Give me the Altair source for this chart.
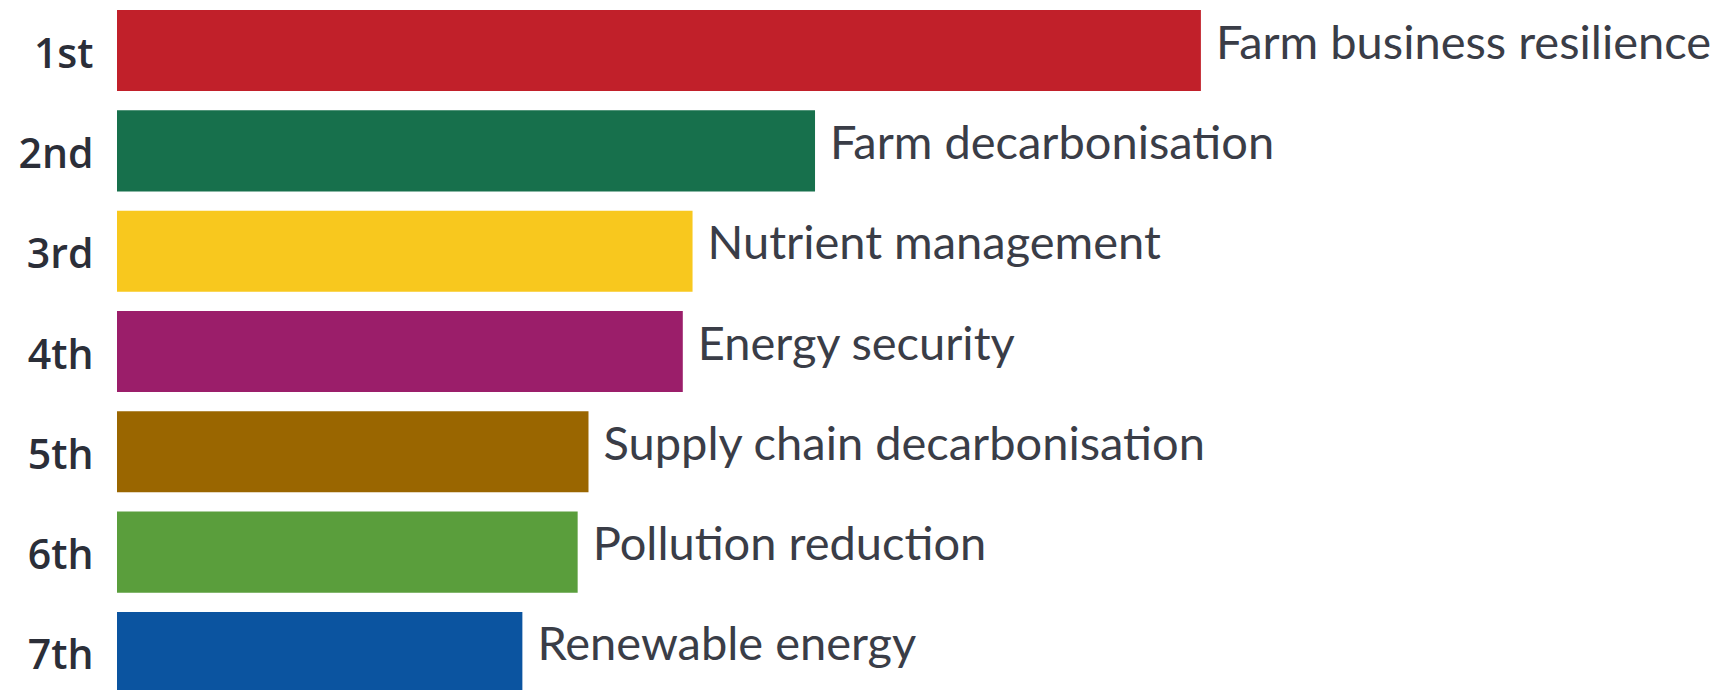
import altair as alt
import pandas as pd

ranks = ["1st", "2nd", "3rd", "4th", "5th", "6th", "7th"]
priorities = [
    "Farm business resilience",
    "Farm decarbonisation",
    "Nutrient management",
    "Energy security",
    "Supply chain decarbonisation",
    "Pollution reduction",
    "Renewable energy",
]
scores = [100.0, 64.4, 53.1, 52.2, 43.5, 42.5, 37.4]
colors = ["#C1202A", "#17704C", "#F8C81E", "#9B1E6A", "#9A6600", "#5A9E3C", "#0B54A0"]

df = pd.DataFrame({"rank": ranks, "priority": priorities, "score": scores, "color": colors})

yscale = alt.Scale(range=[0, 703], paddingInner=0.192, paddingOuter=0.1)
x_enc = alt.X("score:Q", axis=None, scale=alt.Scale(domain=[0, 147.8], nice=False, zero=True))
y_enc = alt.Y(
    "rank:N",
    sort=ranks,
    scale=yscale,
    axis=alt.Axis(
        title=None, domain=False, ticks=False, labelPadding=24,
        labelFont="Open Sans", labelFontSize=41, labelFontWeight=600,
        labelColor="#2b2e38", labelBaseline="alphabetic", labelOffset=17,
    ),
)

bars = alt.Chart(df).mark_bar(clip=True).encode(
    x=x_enc,
    y=y_enc,
    color=alt.Color("color:N", scale=None),
)

labels = alt.Chart(df).mark_text(
    align="left", baseline="alphabetic", dx=15, dy=8,
    font="Lato", fontSize=47, color="#3a3d47", clip=True,
).encode(
    x=x_enc,
    y=alt.Y("rank:N", sort=ranks, scale=yscale),
    text="priority:N",
)

chart = (bars + labels).properties(
    width=1602,
    height=690,
    autosize=alt.AutoSizeParams(type="none"),
    padding={"left": 117, "top": 0, "right": 0, "bottom": 0},
    background="white",
).configure_view(stroke=None)

chart.save("out.html", embed_options={"renderer": "svg", "actions": False})
